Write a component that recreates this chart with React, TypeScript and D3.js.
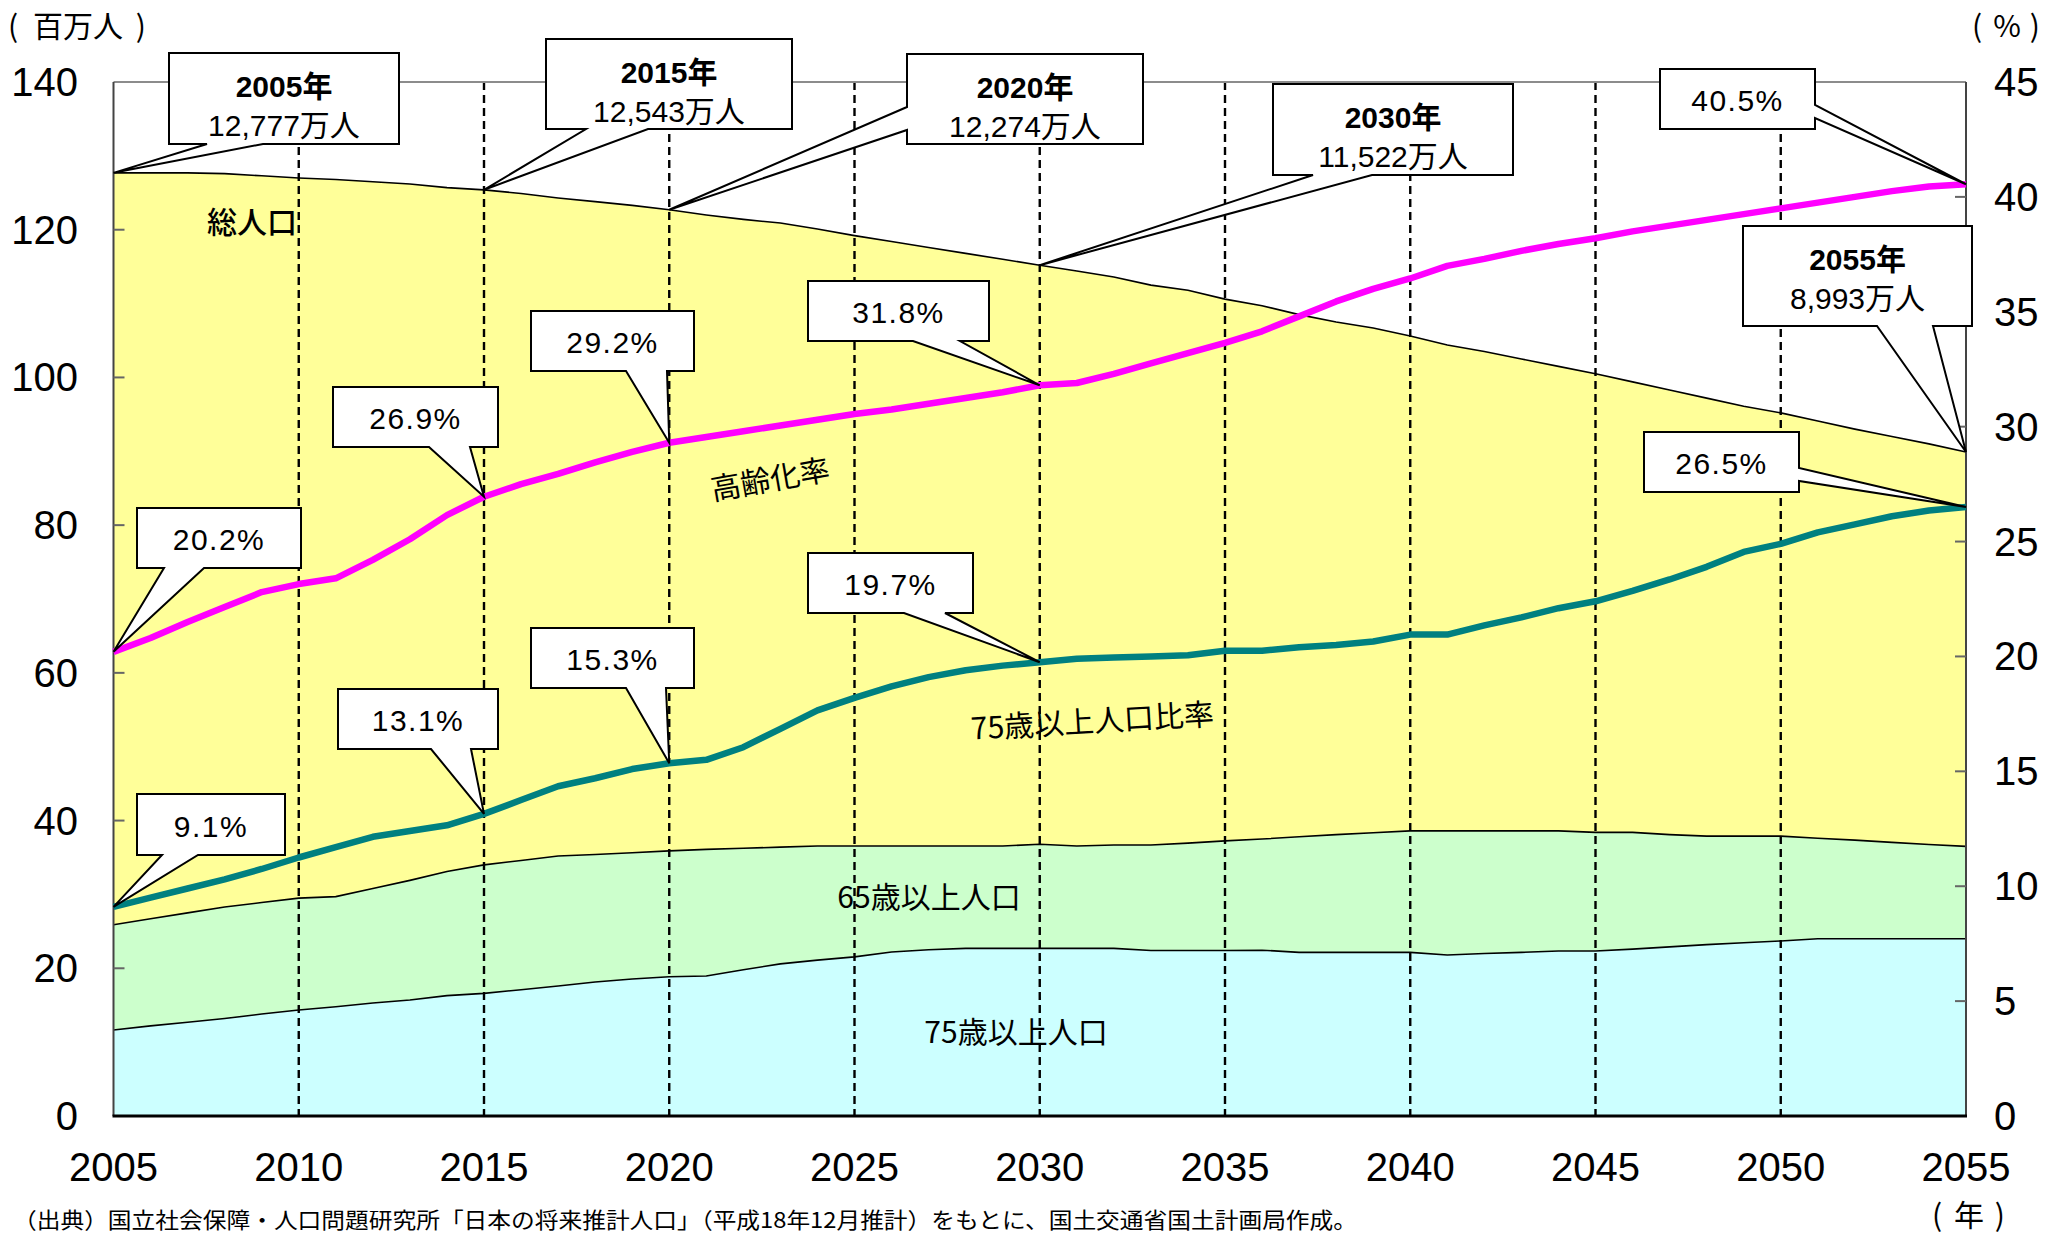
import React from "react";
import * as d3 from "d3";

// ---------- data ----------
const years = [
  2005, 2006, 2007, 2008, 2009, 2010, 2011, 2012, 2013, 2014,
  2015, 2016, 2017, 2018, 2019, 2020, 2021, 2022, 2023, 2024,
  2025, 2026, 2027, 2028, 2029, 2030, 2031, 2032, 2033, 2034,
  2035, 2036, 2037, 2038, 2039, 2040, 2041, 2042, 2043, 2044,
  2045, 2046, 2047, 2048, 2049, 2050, 2051, 2052, 2053, 2054, 2055,
];

// 総人口 (百万人)
const totalPop = [
  127.7, 127.7, 127.7, 127.6, 127.3, 127.0, 126.8, 126.5, 126.2, 125.7,
  125.4, 124.9, 124.3, 123.8, 123.3, 122.7, 122.0, 121.4, 120.9, 120.1,
  119.2, 118.4, 117.6, 116.8, 116.0, 115.2, 114.4, 113.6, 112.5, 111.8,
  110.6, 109.7, 108.5, 107.5, 106.7, 105.6, 104.4, 103.5, 102.5, 101.5,
  100.5, 99.4, 98.3, 97.2, 96.1, 95.2, 94.1, 93.0, 92.0, 91.0, 89.9,
];

// 65歳以上人口 (百万人)
const pop65 = [
  25.9, 26.7, 27.5, 28.3, 28.9, 29.5, 29.7, 30.8, 31.9, 33.1,
  34.0, 34.6, 35.2, 35.4, 35.65, 35.9, 36.1, 36.25, 36.4, 36.55,
  36.55, 36.55, 36.55, 36.55, 36.55, 36.8, 36.55, 36.7, 36.7, 36.95,
  37.25, 37.5, 37.8, 38.1, 38.35, 38.6, 38.6, 38.6, 38.6, 38.6,
  38.4, 38.4, 38.1, 37.9, 37.9, 37.9, 37.6, 37.35, 37.05, 36.75, 36.5,
];

// 75歳以上人口 (百万人)
const pop75 = [
  11.65, 12.2, 12.7, 13.2, 13.8, 14.35, 14.8, 15.3, 15.7, 16.3,
  16.6, 17.1, 17.6, 18.15, 18.55, 18.85, 18.95, 19.8, 20.6, 21.1,
  21.55, 22.2, 22.5, 22.7, 22.7, 22.7, 22.7, 22.7, 22.4, 22.4,
  22.4, 22.45, 22.15, 22.15, 22.15, 22.15, 21.8, 22.0, 22.15, 22.35,
  22.35, 22.6, 22.9, 23.2, 23.45, 23.7, 24.0, 24.0, 24.0, 24.0, 24.0,
];

// 高齢化率 (%)
const agingRate = [
  20.2, 20.8, 21.5, 22.15, 22.8, 23.15, 23.4, 24.2, 25.1, 26.15,
  26.95, 27.5, 27.95, 28.45, 28.9, 29.3, 29.55, 29.8, 30.05, 30.3,
  30.55, 30.75, 31.0, 31.25, 31.5, 31.8, 31.9, 32.3, 32.75, 33.2,
  33.65, 34.15, 34.8, 35.45, 36.0, 36.45, 37.0, 37.3, 37.65, 37.95,
  38.2, 38.5, 38.75, 39.0, 39.25, 39.5, 39.75, 40.0, 40.25, 40.45, 40.55,
];

// 75歳以上人口比率 (%)
const ratio75 = [
  9.1, 9.5, 9.9, 10.3, 10.75, 11.25, 11.7, 12.15, 12.4, 12.65,
  13.15, 13.75, 14.35, 14.7, 15.1, 15.35, 15.5, 16.05, 16.85, 17.65,
  18.2, 18.7, 19.1, 19.4, 19.6, 19.75, 19.9, 19.95, 20.0, 20.05,
  20.25, 20.25, 20.4, 20.5, 20.65, 20.95, 20.95, 21.35, 21.7, 22.1,
  22.4, 22.85, 23.35, 23.9, 24.55, 24.9, 25.4, 25.75, 26.1, 26.35, 26.5,
];

const xTicks = [2005, 2010, 2015, 2020, 2025, 2030, 2035, 2040, 2045, 2050, 2055];
const gridYears = [2010, 2015, 2020, 2025, 2030, 2035, 2040, 2045, 2050];
const leftTicks = [0, 20, 40, 60, 80, 100, 120, 140];
const rightTicks = [0, 5, 10, 15, 20, 25, 30, 35, 40, 45];

const popLabelYears = [2005, 2015, 2020, 2030, 2055];
const popLabelTexts = ["12,777万人", "12,543万人", "12,274万人", "11,522万人", "8,993万人"];
const agingLabelYears = [2005, 2015, 2020, 2030, 2055];
const agingLabelTexts = ["20.2%", "26.9%", "29.2%", "31.8%", "40.5%"];
const ratioLabelYears = [2005, 2015, 2020, 2030, 2055];
const ratioLabelTexts = ["9.1%", "13.1%", "15.3%", "19.7%", "26.5%"];

// ---------- layout ----------
const W = 2046;
const H = 1236;
const PL = 113.5, PR = 1966, PT = 82, PB = 1116;

// callout boxes [x, y, w, h], tail side and attach points
const popBoxes = [
  { box: [169, 53, 230, 91], side: "bottom", attach: [207, 263] },
  { box: [546, 39, 246, 90], side: "bottom", attach: [586, 648] },
  { box: [907, 54, 236, 90], side: "left", attach: [107, 130] },
  { box: [1273, 84, 240, 91], side: "bottom", attach: [1313, 1372] },
  { box: [1743, 226, 229, 100], side: "bottom", attach: [1877, 1933] },
];
const agingBoxes = [
  { box: [137, 508, 164, 60], side: "bottom", attach: [164, 204] },
  { box: [333, 387, 165, 60], side: "bottom", attach: [429, 470] },
  { box: [531, 311, 163, 60], side: "bottom", attach: [626, 667] },
  { box: [808, 281, 181, 60], side: "bottom", attach: [913, 960] },
  { box: [1660, 69, 155, 60], side: "right", attach: [105, 118] },
];
const ratioBoxes = [
  { box: [137, 794, 148, 61], side: "bottom", attach: [162, 198] },
  { box: [338, 689, 160, 60], side: "bottom", attach: [431, 471] },
  { box: [531, 628, 163, 60], side: "bottom", attach: [626, 666] },
  { box: [808, 553, 165, 60], side: "bottom", attach: [904, 945] },
  { box: [1644, 432, 155, 60], side: "right", attach: [468, 481] },
];

const NUM = "'Liberation Sans', Arial, 'Noto Sans CJK JP', sans-serif";
const JP = "'Noto Sans CJK JP', 'Noto Sans', sans-serif";

function calloutPath(b: number[], side: string, a: number[], px: number, py: number) {
  const [x, y, w, h] = b;
  const pts: number[][] = [];
  if (side === "bottom") {
    pts.push([x, y], [x + w, y], [x + w, y + h], [a[1], y + h], [px, py], [a[0], y + h], [x, y + h]);
  } else if (side === "left") {
    pts.push([x, y], [x + w, y], [x + w, y + h], [x, y + h], [x, a[1]], [px, py], [x, a[0]]);
  } else {
    pts.push([x, y], [x + w, y], [x + w, a[0]], [px, py], [x + w, a[1]], [x + w, y + h], [x, y + h]);
  }
  return "M" + pts.map((p) => p.join(",")).join("L") + "Z";
}

function Unit({ x0, x1, y, label, labelX }: { x0: number; x1: number; y: number; label: string; labelX: number }) {
  return (
    <g fontFamily={JP} fontSize={30} fill="#000">
      <text x={x0} y={y}>(</text>
      <text x={labelX} y={y} textAnchor="middle">{label}</text>
      <text x={x1} y={y} textAnchor="end">)</text>
    </g>
  );
}

export default function App() {
  const x = d3.scaleLinear().domain([2005, 2055]).range([PL, PR]);
  const yL = d3.scaleLinear().domain([0, 140]).range([PB, PT]);
  const yR = d3.scaleLinear().domain([0, 45]).range([PB, PT]);

  const idx = (yr: number) => years.indexOf(yr);

  const areaL = (vals: number[]) =>
    d3.area<number>().x((_, i) => x(years[i])).y0(yL(0)).y1((d) => yL(d))(vals) || "";
  const lineL = (vals: number[]) =>
    d3.line<number>().x((_, i) => x(years[i])).y((d) => yL(d))(vals) || "";
  const lineR = (vals: number[]) =>
    d3.line<number>().x((_, i) => x(years[i])).y((d) => yR(d))(vals) || "";

  return (
    <div style={{ position: "absolute", left: 0, top: 0, width: W, height: H, overflow: "hidden", background: "#fff" }}>
      <svg width={W} height={H} viewBox={`0 0 ${W} ${H}`} style={{ display: "block" }}>
        <rect x={0} y={0} width={W} height={H} fill="#fff" />

        {/* areas */}
        <path d={areaL(totalPop)} fill="#FFFF99" />
        <path d={areaL(pop65)} fill="#CCFFCC" />
        <path d={areaL(pop75)} fill="#CCFFFF" />
        <path d={lineL(totalPop)} fill="none" stroke="#000" strokeWidth={1.6} />
        <path d={lineL(pop65)} fill="none" stroke="#000" strokeWidth={1.6} />
        <path d={lineL(pop75)} fill="none" stroke="#000" strokeWidth={1.6} />

        {/* dashed verticals */}
        {gridYears.map((yr) => (
          <line key={yr} x1={x(yr)} x2={x(yr)} y1={PT} y2={PB} stroke="#000" strokeWidth={2.4} strokeDasharray="8 5" />
        ))}

        {/* frame */}
        <line x1={PL} x2={PR} y1={PT} y2={PT} stroke="#8c8c8c" strokeWidth={2} />
        <line x1={PL} x2={PL} y1={PT} y2={PB} stroke="#444" strokeWidth={2} />
        <line x1={PR} x2={PR} y1={PT} y2={PB} stroke="#444" strokeWidth={2} />
        {leftTicks.filter((v) => v > 0 && v < 140).map((v) => (
          <line key={"lt" + v} x1={PL} x2={PL + 11} y1={yL(v)} y2={yL(v)} stroke="#666" strokeWidth={2} />
        ))}
        {rightTicks.filter((v) => v > 0 && v < 45).map((v) => (
          <line key={"rt" + v} x1={PR - 11} x2={PR} y1={yR(v)} y2={yR(v)} stroke="#666" strokeWidth={2} />
        ))}
        <line x1={PL - 1} x2={PR + 1} y1={PB} y2={PB} stroke="#000" strokeWidth={3} />

        {/* rate lines */}
        <path d={lineR(agingRate)} fill="none" stroke="#FF00FF" strokeWidth={6.5} strokeLinejoin="round" />
        <path d={lineR(ratio75)} fill="none" stroke="#008080" strokeWidth={6.5} strokeLinejoin="round" />

        {/* population callouts */}
        {popLabelYears.map((yr, k) => {
          const c = popBoxes[k];
          const px = x(yr), py = yL(totalPop[idx(yr)]);
          const [bx, by, bw] = c.box;
          return (
            <g key={"pc" + yr}>
              <path d={calloutPath(c.box, c.side, c.attach, px, py)} fill="#fff" stroke="#000" strokeWidth={2} />
              <text x={bx + bw / 2} y={by + 44} textAnchor="middle" fontFamily={NUM} fontWeight="bold" fontSize={30} fill="#000">
                {yr}年
              </text>
              <text x={bx + bw / 2} y={by + 83} textAnchor="middle" fontFamily={NUM} fontSize={30} fill="#000">
                {popLabelTexts[k]}
              </text>
            </g>
          );
        })}

        {/* aging-rate callouts */}
        {agingLabelYears.map((yr, k) => {
          const c = agingBoxes[k];
          const px = x(yr), py = yR(agingRate[idx(yr)]);
          const [bx, by, bw, bh] = c.box;
          return (
            <g key={"ac" + yr}>
              <path d={calloutPath(c.box, c.side, c.attach, px, py)} fill="#fff" stroke="#000" strokeWidth={2} />
              <text x={bx + bw / 2} y={by + bh / 2 + 12} textAnchor="middle" fontFamily={NUM} fontSize={30} letterSpacing={1.5} fill="#000">
                {agingLabelTexts[k]}
              </text>
            </g>
          );
        })}

        {/* 75+ ratio callouts */}
        {ratioLabelYears.map((yr, k) => {
          const c = ratioBoxes[k];
          const px = x(yr), py = yR(ratio75[idx(yr)]);
          const [bx, by, bw, bh] = c.box;
          return (
            <g key={"rc" + yr}>
              <path d={calloutPath(c.box, c.side, c.attach, px, py)} fill="#fff" stroke="#000" strokeWidth={2} />
              <text x={bx + bw / 2} y={by + bh / 2 + 12} textAnchor="middle" fontFamily={NUM} fontSize={30} letterSpacing={1.5} fill="#000">
                {ratioLabelTexts[k]}
              </text>
            </g>
          );
        })}

        {/* series labels */}
        <text x={207} y={233} fontFamily={JP} fontSize={30} fontWeight={500} fill="#000">総人口</text>
        <text x={0} y={0} transform="translate(772,490) rotate(-10)" textAnchor="middle" fontFamily={JP} fontSize={30} fill="#000">高齢化率</text>
        <text x={0} y={0} transform="translate(1093,732) rotate(-3.5)" textAnchor="middle" fontFamily={JP} fontSize={30} fill="#000">75歳以上人口比率</text>
        <text x={929} y={908} textAnchor="middle" fontFamily={JP} fontSize={30} fill="#000">65歳以上人口</text>
        <text x={1016} y={1043} textAnchor="middle" fontFamily={JP} fontSize={30} fill="#000">75歳以上人口</text>

        {/* axis tick labels */}
        {leftTicks.map((v) => (
          <text key={"ll" + v} x={78} y={yL(v) + 14} textAnchor="end" fontFamily={NUM} fontSize={40} fill="#000">{v}</text>
        ))}
        {rightTicks.map((v) => (
          <text key={"rl" + v} x={1994} y={yR(v) + 14} textAnchor="start" fontFamily={NUM} fontSize={40} fill="#000">{v}</text>
        ))}
        {xTicks.map((v) => (
          <text key={"xl" + v} x={x(v)} y={1181} textAnchor="middle" fontFamily={NUM} fontSize={40} fill="#000">{v}</text>
        ))}

        {/* units */}
        <Unit x0={8} x1={146} y={37} label="百万人" labelX={78} />
        <Unit x0={1972} x1={2040} y={37} label="%" labelX={2007} />
        <Unit x0={1932} x1={2005} y={1226} label="年" labelX={1969} />

        {/* source */}
        <text x={13} y={1228} fontFamily={JP} fontSize={22} textLength={1344} lengthAdjust="spacingAndGlyphs" fill="#000">
          （出典）国立社会保障・人口問題研究所「日本の将来推計人口」（平成18年12月推計）をもとに、国土交通省国土計画局作成。
        </text>
      </svg>
    </div>
  );
}
